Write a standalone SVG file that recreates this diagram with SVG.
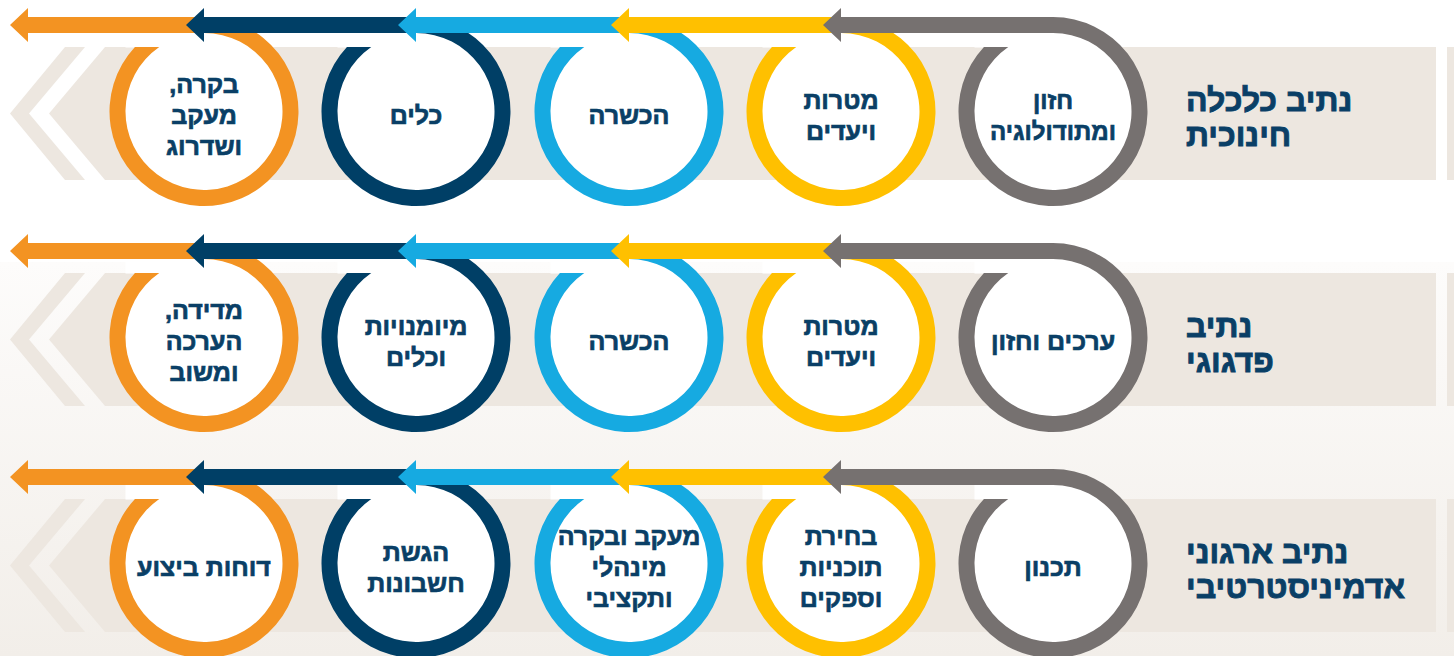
<svg xmlns="http://www.w3.org/2000/svg" xmlns:xlink="http://www.w3.org/1999/xlink" width="1454" height="656" viewBox="0 0 1454 656">
  <defs>
    <linearGradient id="bg" x1="0" y1="0" x2="0" y2="1">
      <stop offset="0" stop-color="#FDFCFB"/>
      <stop offset="1" stop-color="#F2EEE9"/>
    </linearGradient>
    <g id="fill">
      <circle r="79" fill="#FFFFFF"/>
      <rect x="-78.5" y="-78.5" width="123" height="14.5" fill="#FFFFFF"/>
    </g>
    <path id="ring" d="M0,-94.5 A94.5,94.5 0 1 1 -69.07,-64.5 L-44.74,-64.5 A78.5,78.5 0 1 0 0,-78.5 Z"/>
    <g id="band">
      <path d="M105,-64.5 H1436 V68.5 H105 L49,2 Z"/>
      <path d="M65,-64.5 H85 L29,2 L85,68.5 H65 L10,2 Z"/>
      <rect x="1447" y="-64.5" width="7" height="133"/>
    </g>
    <style>
      .t { font-family: "Liberation Sans", Arial, "DejaVu Sans", sans-serif; font-weight: bold; font-size: 25px; fill: #0A3F66; stroke: #0A3F66; stroke-width: 0.7px; text-anchor: middle; direction: rtl; }
      .lbl { font-family: "Liberation Sans", Arial, "DejaVu Sans", sans-serif; font-weight: bold; font-size: 32px; fill: #0A3F66; stroke: #0A3F66; stroke-width: 0.9px; text-anchor: end; direction: rtl; }
      .band { fill: #EDE7E0; }
      .or { fill: #F39322; }
      .nv { fill: #003F66; }
      .bl { fill: #16AAE1; }
      .ye { fill: #FFC000; }
      .gr { fill: #767170; }
    </style>
  </defs>

  <rect x="0" y="0" width="1454" height="656" fill="#FFFFFF"/>
  <rect x="0" y="262" width="1454" height="394" fill="url(#bg)"/>

  <g id="bands" class="band">
    <use xlink:href="#band" transform="translate(0,111.5)"/>
    <use xlink:href="#band" transform="translate(0,337.5)"/>
    <use xlink:href="#band" transform="translate(0,563.5)"/>
  </g>

  <!-- Row 1 -->
  <g id="r1-n5" transform="translate(204,111.5)">
    <use xlink:href="#fill"/><use xlink:href="#ring" class="or"/>
    <text class="t" x="0" y="-19">בקרה,</text>
    <text class="t" x="0" y="12">מעקב</text>
    <text class="t" x="0" y="43">ושדרוג</text>
  </g>
  <g id="r1-n4" transform="translate(416,111.5)">
    <use xlink:href="#fill"/><use xlink:href="#ring" class="nv"/>
    <text class="t" x="0" y="12">כלים</text>
  </g>
  <g id="r1-n3" transform="translate(629,111.5)">
    <use xlink:href="#fill"/><use xlink:href="#ring" class="bl"/>
    <text class="t" x="0" y="12">הכשרה</text>
  </g>
  <g id="r1-n2" transform="translate(841,111.5)">
    <use xlink:href="#fill"/><use xlink:href="#ring" class="ye"/>
    <text class="t" x="0" y="-3">מטרות</text>
    <text class="t" x="0" y="28">ויעדים</text>
  </g>
  <g id="r1-n1" transform="translate(1053,111.5)">
    <use xlink:href="#fill"/><use xlink:href="#ring" class="gr"/>
    <text class="t" x="0" y="-3" style="font-size:24px">חזון</text>
    <text class="t" x="0" y="28" style="font-size:24px">ומתודולוגיה</text>
  </g>
  <g id="r1-label">
    <text class="lbl" x="1186" y="111">נתיב כלכלה</text>
    <text class="lbl" x="1186" y="146">חינוכית</text>
  </g>

  <!-- Row 2 -->
  <g id="r2-n5" transform="translate(204,337.5)">
    <use xlink:href="#fill"/><use xlink:href="#ring" class="or"/>
    <text class="t" x="0" y="-19">מדידה,</text>
    <text class="t" x="0" y="12">הערכה</text>
    <text class="t" x="0" y="43">ומשוב</text>
  </g>
  <g id="r2-n4" transform="translate(416,337.5)">
    <use xlink:href="#fill"/><use xlink:href="#ring" class="nv"/>
    <text class="t" x="0" y="-3">מיומנויות</text>
    <text class="t" x="0" y="28">וכלים</text>
  </g>
  <g id="r2-n3" transform="translate(629,337.5)">
    <use xlink:href="#fill"/><use xlink:href="#ring" class="bl"/>
    <text class="t" x="0" y="12">הכשרה</text>
  </g>
  <g id="r2-n2" transform="translate(841,337.5)">
    <use xlink:href="#fill"/><use xlink:href="#ring" class="ye"/>
    <text class="t" x="0" y="-3">מטרות</text>
    <text class="t" x="0" y="28">ויעדים</text>
  </g>
  <g id="r2-n1" transform="translate(1053,337.5)">
    <use xlink:href="#fill"/><use xlink:href="#ring" class="gr"/>
    <text class="t" x="0" y="12">ערכים וחזון</text>
  </g>
  <g id="r2-label">
    <text class="lbl" x="1186" y="337">נתיב</text>
    <text class="lbl" x="1186" y="372">פדגוגי</text>
  </g>

  <!-- Row 3 -->
  <g id="r3-n5" transform="translate(204,563.5)">
    <use xlink:href="#fill"/><use xlink:href="#ring" class="or"/>
    <text class="t" x="0" y="12">דוחות ביצוע</text>
  </g>
  <g id="r3-n4" transform="translate(416,563.5)">
    <use xlink:href="#fill"/><use xlink:href="#ring" class="nv"/>
    <text class="t" x="0" y="-3">הגשת</text>
    <text class="t" x="0" y="28">חשבונות</text>
  </g>
  <g id="r3-n3" transform="translate(629,563.5)">
    <use xlink:href="#fill"/><use xlink:href="#ring" class="bl"/>
    <text class="t" x="0" y="-19">מעקב ובקרה</text>
    <text class="t" x="0" y="12">מינהלי</text>
    <text class="t" x="0" y="43">ותקציבי</text>
  </g>
  <g id="r3-n2" transform="translate(841,563.5)">
    <use xlink:href="#fill"/><use xlink:href="#ring" class="ye"/>
    <text class="t" x="0" y="-19">בחירת</text>
    <text class="t" x="0" y="12">תוכניות</text>
    <text class="t" x="0" y="43">וספקים</text>
  </g>
  <g id="r3-n1" transform="translate(1053,563.5)">
    <use xlink:href="#fill"/><use xlink:href="#ring" class="gr"/>
    <text class="t" x="0" y="12">תכנון</text>
  </g>
  <g id="r3-label">
    <text class="lbl" x="1186" y="563">נתיב ארגוני</text>
    <text class="lbl" x="1186" y="598">אדמיניסטרטיבי</text>
  </g>

  <!-- Connectors -->
  <g id="connectors">
    <g id="arrows-row1" transform="translate(0,111.5)">
      <path class="or" d="M204,-94.5 H28 V-103.5 L10,-86.5 L28,-69.5 V-78.5 H204 Z"/>
      <path class="nv" d="M416,-94.5 H204 V-103.5 L186,-86.5 L204,-69.5 V-78.5 H416 Z"/>
      <path class="bl" d="M629,-94.5 H416 V-103.5 L398,-86.5 L416,-69.5 V-78.5 H629 Z"/>
      <path class="ye" d="M841,-94.5 H629 V-103.5 L611,-86.5 L629,-69.5 V-78.5 H841 Z"/>
      <path class="gr" d="M1053,-94.5 H841 V-103.5 L823,-86.5 L841,-69.5 V-78.5 H1053 Z"/>
    </g>
    <g id="arrows-row2" transform="translate(0,337.5)">
      <path class="or" d="M204,-94.5 H28 V-103.5 L10,-86.5 L28,-69.5 V-78.5 H204 Z"/>
      <path class="nv" d="M416,-94.5 H204 V-103.5 L186,-86.5 L204,-69.5 V-78.5 H416 Z"/>
      <path class="bl" d="M629,-94.5 H416 V-103.5 L398,-86.5 L416,-69.5 V-78.5 H629 Z"/>
      <path class="ye" d="M841,-94.5 H629 V-103.5 L611,-86.5 L629,-69.5 V-78.5 H841 Z"/>
      <path class="gr" d="M1053,-94.5 H841 V-103.5 L823,-86.5 L841,-69.5 V-78.5 H1053 Z"/>
    </g>
    <g id="arrows-row3" transform="translate(0,563.5)">
      <path class="or" d="M204,-94.5 H28 V-103.5 L10,-86.5 L28,-69.5 V-78.5 H204 Z"/>
      <path class="nv" d="M416,-94.5 H204 V-103.5 L186,-86.5 L204,-69.5 V-78.5 H416 Z"/>
      <path class="bl" d="M629,-94.5 H416 V-103.5 L398,-86.5 L416,-69.5 V-78.5 H629 Z"/>
      <path class="ye" d="M841,-94.5 H629 V-103.5 L611,-86.5 L629,-69.5 V-78.5 H841 Z"/>
      <path class="gr" d="M1053,-94.5 H841 V-103.5 L823,-86.5 L841,-69.5 V-78.5 H1053 Z"/>
    </g>
  </g>
</svg>
